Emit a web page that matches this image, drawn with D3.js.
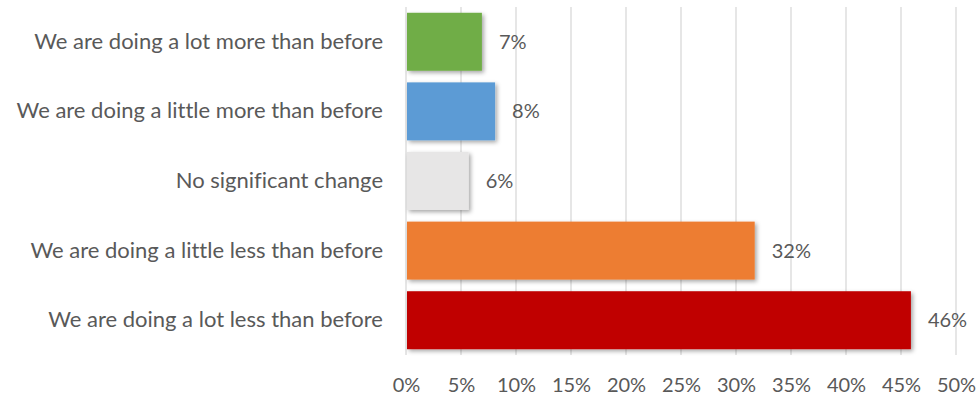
<!DOCTYPE html>
<html>
<head>
<meta charset="utf-8">
<script src="https://cdn.jsdelivr.net/npm/d3@7"></script>
<style>
	body { margin: 0; background: #fff; }
	svg text { font-family: Lato, "Open Sans", sans-serif; fill: #595959; font-variant-ligatures: none; }
</style>
</head>
<body>
<svg id="chart" width="978" height="397"></svg>
<script>
"use strict";

// data
var categories = [
	'We are doing a lot more than before',
	'We are doing a little more than before',
	'No significant change',
	'We are doing a little less than before',
	'We are doing a lot less than before'
];
var values = [6.9, 8.1, 5.7, 31.7, 45.9];
var valueLabels = ['7%', '8%', '6%', '32%', '46%'];
var barColors = ['#70ad47', '#5b9bd5', '#e7e6e6', '#ed7d31', '#c00000'];
var ticks = [0, 5, 10, 15, 20, 25, 30, 35, 40, 45, 50];

var svg = d3.select('#chart');
var margin = { top: 7, left: 406, right: 22, bottom: 42 };
var width = 978 - margin.left - margin.right;
var height = 397 - margin.top - margin.bottom;

// drop shadow for the bars
var defs = svg.append('defs');
var shadow = defs.append('filter')
	.attr('id', 'bar-shadow')
	.attr('x', '-10%').attr('y', '-10%')
	.attr('width', '130%').attr('height', '140%');
shadow.append('feDropShadow')
	.attr('dx', 2).attr('dy', 2)
	.attr('stdDeviation', 2)
	.attr('flood-color', '#000')
	.attr('flood-opacity', 0.35);

var g = svg.append('g').attr('transform', 'translate(' + margin.left + ',' + margin.top + ')');

var x = d3.scaleLinear().domain([0, 50]).range([0, width]);
var y = d3.scaleBand().domain(categories).range([0, height]).paddingInner(0.167).paddingOuter(0.083);

// gridlines
g.append('g')
	.selectAll('line')
	.data(ticks)
	.enter().append('line')
	.attr('x1', function(d) { return x(d); })
	.attr('x2', function(d) { return x(d); })
	.attr('y1', 0)
	.attr('y2', height)
	.attr('stroke', '#d9d9d9')
	.attr('stroke-width', 1.3);

// x axis labels
var xAxis = d3.axisBottom(x)
	.tickValues(ticks)
	.tickSize(0)
	.tickPadding(23)
	.tickFormat(function(d) { return d + '%'; });
g.append('g')
	.attr('transform', 'translate(0,' + height + ')')
	.call(xAxis)
	.call(function(a) { a.select('.domain').remove(); })
	.selectAll('text')
	.style('font-size', '20px')
	.attr('fill', '#595959');

// category labels
var yAxis = d3.axisLeft(y).tickSize(0).tickPadding(23);
g.append('g')
	.call(yAxis)
	.call(function(a) { a.select('.domain').remove(); })
	.selectAll('text')
	.style('font-size', '22px')
	.attr('fill', '#595959');

// bars
g.append('g')
	.selectAll('rect')
	.data(values)
	.enter().append('rect')
	.attr('x', x(0) + 1)
	.attr('y', function(d, i) { return y(categories[i]); })
	.attr('width', function(d) { return x(d) - x(0) - 1; })
	.attr('height', y.bandwidth())
	.attr('fill', function(d, i) { return barColors[i]; })
	.attr('filter', 'url(#bar-shadow)');

// value labels
g.append('g')
	.selectAll('text')
	.data(values)
	.enter().append('text')
	.attr('x', function(d) { return x(d) + 17; })
	.attr('y', function(d, i) { return y(categories[i]) + y.bandwidth() / 2; })
	.attr('dy', '0.35em')
	.style('font-size', '20px')
	.text(function(d, i) { return valueLabels[i]; });
</script>
</body>
</html>
